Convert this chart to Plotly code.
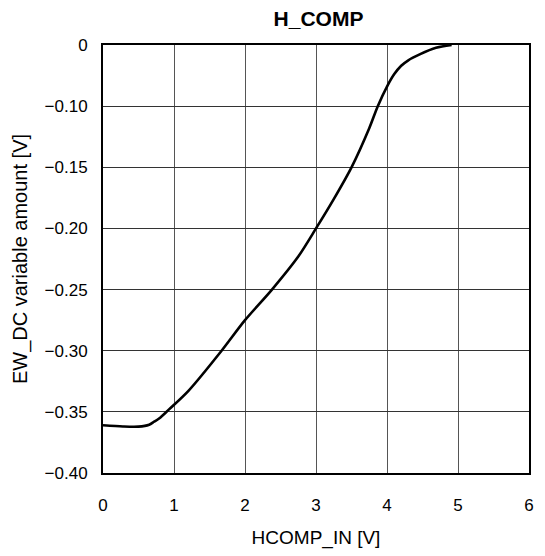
import plotly.graph_objects as go

# Curve (top gridline is labeled "0")
hcomp_in = [0.0, 0.28, 0.5, 0.65, 0.72, 0.79, 0.93, 1.2, 1.67, 2.0, 2.38, 2.75, 3.0, 3.25, 3.5, 3.75, 3.87, 4.0, 4.1, 4.2, 4.3, 4.46, 4.69, 4.91]
ew_dc = [-0.361, -0.362, -0.3621, -0.3605, -0.358, -0.3555, -0.348, -0.333, -0.300, -0.275, -0.250, -0.223, -0.200, -0.176, -0.150, -0.118, -0.100, -0.084, -0.074, -0.067, -0.0625, -0.0577, -0.0523, -0.050]

x_ticks = [0, 1, 2, 3, 4, 5, 6]
y_tickvals = [-0.05, -0.10, -0.15, -0.20, -0.25, -0.30, -0.35, -0.40]
y_ticktext = ["0", "\u22120.10", "\u22120.15", "\u22120.20", "\u22120.25", "\u22120.30", "\u22120.35", "\u22120.40"]

FONT = "Liberation Sans, Arial, sans-serif"

fig = go.Figure()
fig.add_trace(go.Scatter(
    x=hcomp_in, y=ew_dc, mode="lines",
    line=dict(color="black", width=2.6, shape="spline", smoothing=0.8),
    hoverinfo="skip", showlegend=False,
))

fig.update_layout(
    width=545, height=556,
    margin=dict(l=103, r=11, t=45, b=78),
    paper_bgcolor="white", plot_bgcolor="white",
    font=dict(family=FONT, size=17, color="black"),
    title=dict(text="<b>H_COMP</b>", x=(103 + 534) / 2 / 545, xanchor="center",
               y=1 - 19 / 556, yanchor="middle", font=dict(size=21, family=FONT)),
)
fig.update_xaxes(
    range=[0, 6], tickvals=x_ticks, ticktext=[str(v) for v in x_ticks],
    showgrid=True, gridcolor="#555555", gridwidth=1,
    showline=True, linecolor="black", linewidth=2, mirror=True,
    ticks="", ticklabelstandoff=16, zeroline=False,
    title=dict(text="HCOMP_IN [V]", standoff=16, font=dict(size=19)),
    tickfont=dict(size=17),
)
fig.update_yaxes(
    range=[-0.40, -0.05], tickvals=y_tickvals, ticktext=y_ticktext,
    showgrid=True, gridcolor="#333333", gridwidth=1,
    showline=True, linecolor="black", linewidth=2, mirror=True,
    ticks="", ticklabelstandoff=10, zeroline=False,
    title=dict(text="EW_DC variable amount [V]", standoff=12, font=dict(size=20)),
    tickfont=dict(size=17),
)

fig.write_html("out.html", config={"displayModeBar": False},
               post_script="document.body.style.margin='0';")
